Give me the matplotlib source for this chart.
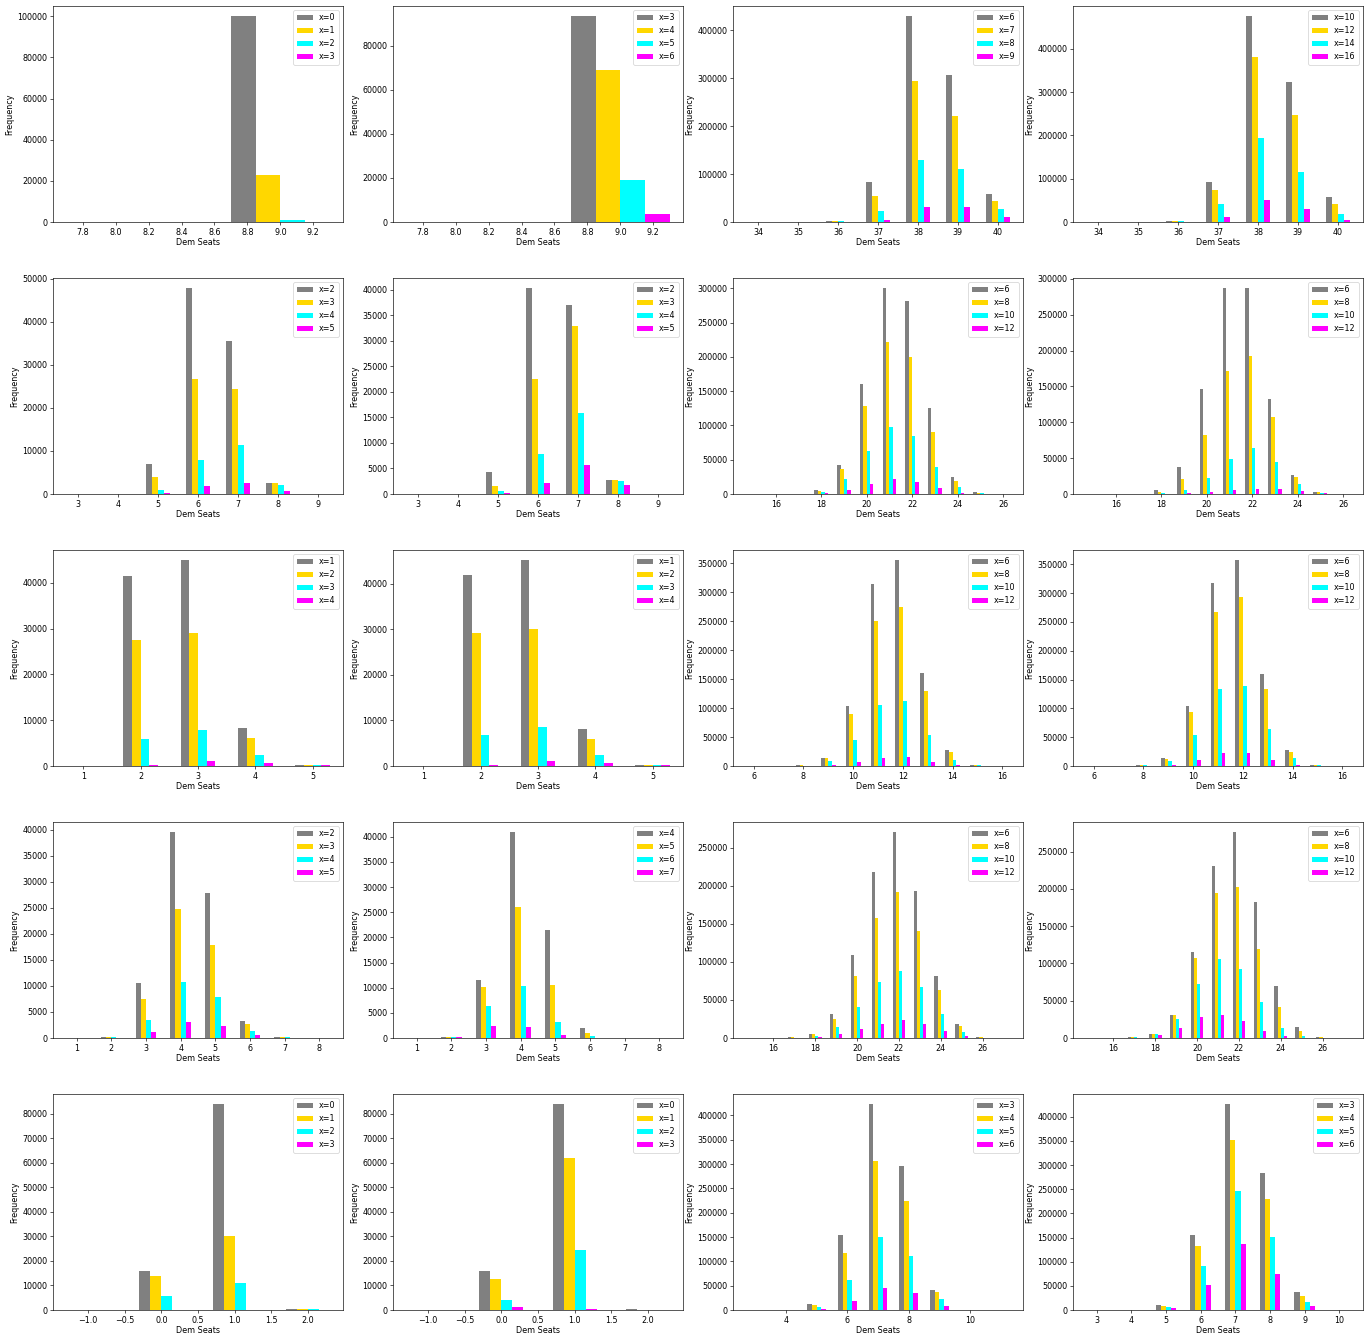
import matplotlib
matplotlib.use("Agg")
import matplotlib.pyplot as plt

# Simulated Dem seat distributions: one panel per state/chamber, four x settings each
panel_seats = [
    list(range(8, 10)), list(range(8, 10)), list(range(34, 41)), list(range(34, 41)),
    list(range(3, 10)), list(range(3, 10)), list(range(15, 27)), list(range(15, 27)),
    list(range(1, 6)), list(range(1, 6)), list(range(6, 17)), list(range(6, 17)),
    list(range(1, 9)), list(range(1, 9)), list(range(15, 28)), list(range(15, 28)),
    list(range(-1, 3)), list(range(-1, 3)), list(range(3, 12)), list(range(3, 11)),
]

panel_labels = [
    ["x=0", "x=1", "x=2", "x=3"], ["x=3", "x=4", "x=5", "x=6"],
    ["x=6", "x=7", "x=8", "x=9"], ["x=10", "x=12", "x=14", "x=16"],
    ["x=2", "x=3", "x=4", "x=5"], ["x=2", "x=3", "x=4", "x=5"],
    ["x=6", "x=8", "x=10", "x=12"], ["x=6", "x=8", "x=10", "x=12"],
    ["x=1", "x=2", "x=3", "x=4"], ["x=1", "x=2", "x=3", "x=4"],
    ["x=6", "x=8", "x=10", "x=12"], ["x=6", "x=8", "x=10", "x=12"],
    ["x=2", "x=3", "x=4", "x=5"], ["x=4", "x=5", "x=6", "x=7"],
    ["x=6", "x=8", "x=10", "x=12"], ["x=6", "x=8", "x=10", "x=12"],
    ["x=0", "x=1", "x=2", "x=3"], ["x=0", "x=1", "x=2", "x=3"],
    ["x=3", "x=4", "x=5", "x=6"], ["x=3", "x=4", "x=5", "x=6"],
]

counts_gray = [
    [0, 100000],
    [0, 93500],
    [0, 0, 2500, 84000, 429000, 307000, 58000],
    [0, 0, 3000, 93000, 475000, 324000, 57000],
    [0, 0, 6900, 47800, 35500, 2600, 0],
    [0, 0, 4300, 40300, 37100, 2700, 0],
    [0, 0, 300, 5500, 42000, 161000, 300000, 281000, 126000, 25000, 3000, 0],
    [0, 0, 300, 5000, 37000, 146000, 287000, 287000, 132000, 26000, 3000, 0],
    [0, 41400, 44900, 8300, 200],
    [0, 41900, 45200, 8200, 200],
    [0, 0, 1000, 14000, 104000, 314000, 355000, 160000, 28000, 2000, 0],
    [0, 0, 1000, 14000, 104000, 317000, 357000, 160000, 28000, 2000, 0],
    [0, 200, 10500, 39500, 27900, 3300, 200, 0],
    [0, 200, 11600, 40900, 21400, 2000, 0, 0],
    [0, 0, 1000, 5000, 31000, 109000, 218000, 270000, 193000, 81000, 19000, 1500, 0],
    [0, 0, 1000, 5000, 31000, 116000, 231000, 276000, 182000, 70000, 15000, 1500, 0],
    [0, 15800, 83900, 500],
    [0, 15800, 83900, 500],
    [0, 0, 12000, 154000, 423000, 296000, 41000, 0, 0],
    [0, 0, 11000, 155000, 426000, 283000, 37000, 0],
]

counts_gold = [
    [0, 23000],
    [0, 68900],
    [0, 0, 2000, 54000, 294000, 221000, 44000],
    [0, 0, 2500, 75000, 380000, 246000, 41000],
    [0, 0, 4000, 26800, 24500, 2600, 0],
    [0, 0, 1600, 22600, 33000, 2700, 0],
    [0, 0, 200, 5000, 37000, 129000, 222000, 200000, 91000, 19500, 1500, 0],
    [0, 0, 200, 3000, 21000, 82000, 171000, 193000, 107000, 24000, 3000, 0],
    [0, 27500, 29100, 6200, 200],
    [0, 29300, 30000, 6000, 200],
    [0, 0, 1000, 13000, 90000, 250000, 275000, 129000, 24000, 2000, 0],
    [0, 0, 1000, 13000, 94000, 267000, 294000, 134000, 25000, 2000, 0],
    [0, 200, 7400, 24700, 17800, 2600, 200, 0],
    [0, 200, 10200, 26000, 10500, 1000, 0, 0],
    [0, 0, 1000, 5000, 25000, 82000, 158000, 191000, 141000, 63000, 16000, 1500, 0],
    [0, 0, 1000, 5000, 31000, 107000, 194000, 202000, 120000, 42000, 9000, 1000, 0],
    [0, 14000, 30300, 400],
    [0, 12700, 62100, 100],
    [0, 0, 10000, 117000, 307000, 224000, 36000, 0, 0],
    [0, 0, 9000, 132000, 353000, 230000, 28000, 0],
]

counts_cyan = [
    [0, 1100],
    [0, 19200],
    [0, 0, 1500, 22000, 129000, 110000, 27000],
    [0, 0, 1500, 41000, 195000, 115000, 18000],
    [0, 0, 1000, 8000, 11400, 2200, 0],
    [0, 0, 600, 7800, 15900, 2600, 0],
    [0, 0, 100, 3000, 22000, 63000, 98000, 85000, 40000, 9500, 1000, 0],
    [0, 0, 100, 1500, 5000, 22000, 49000, 64000, 44000, 14000, 1500, 0],
    [0, 5900, 7800, 2300, 200],
    [0, 6800, 8500, 2500, 200],
    [0, 0, 300, 8000, 45000, 106000, 113000, 54000, 11000, 1500, 0],
    [0, 0, 1000, 9000, 54000, 133000, 138000, 65000, 13500, 1500, 0],
    [0, 200, 3500, 10800, 7800, 1400, 150, 0],
    [0, 200, 6400, 10300, 3100, 300, 0, 0],
    [0, 0, 300, 2500, 14000, 41000, 73000, 88000, 67000, 31000, 8000, 500, 0],
    [0, 0, 1000, 5000, 26000, 72000, 106000, 93000, 48000, 14000, 3000, 0, 0],
    [0, 5800, 11000, 400],
    [0, 4200, 24600, 0],
    [0, 0, 6000, 62000, 150000, 111000, 22000, 0, 0],
    [0, 0, 6000, 92000, 247000, 151000, 17000, 0],
]

counts_magenta = [
    [0, 0],
    [0, 3800],
    [0, 0, 200, 5000, 31000, 32000, 10000],
    [0, 0, 200, 12000, 50000, 29000, 5000],
    [0, 0, 300, 1900, 2600, 700, 0],
    [0, 0, 200, 2100, 5700, 1800, 0],
    [0, 0, 0, 1000, 6000, 15000, 22000, 17000, 9000, 1500, 200, 0],
    [0, 0, 0, 500, 1500, 3000, 6000, 7500, 7000, 3500, 1000, 0],
    [0, 300, 1000, 700, 200],
    [0, 300, 1100, 700, 200],
    [0, 0, 0, 2500, 7000, 14000, 15000, 7000, 1500, 200, 0],
    [0, 0, 100, 2500, 11000, 23000, 22000, 10000, 2000, 300, 0],
    [0, 50, 1200, 3100, 2300, 500, 50, 0],
    [0, 200, 2300, 2200, 500, 50, 0, 0],
    [0, 0, 0, 1000, 5000, 12000, 19000, 23000, 19000, 9000, 3000, 200, 0],
    [0, 0, 500, 4000, 13000, 28000, 31000, 23000, 10000, 3000, 500, 0, 0],
    [0, 0, 0, 0],
    [0, 1300, 300, 0],
    [0, 0, 2500, 19000, 45000, 34000, 8000, 0, 0],
    [0, 0, 4000, 52000, 137000, 74000, 8000, 0],
]

series_colors = ["gray", "gold", "cyan", "magenta"]
bar_width = 0.15

DPI = 58
fig, axes = plt.subplots(5, 4, figsize=(1371 / DPI, 1338 / DPI), dpi=DPI)
fig.subplots_adjust(left=53 / 1371, right=1363 / 1371,
                    top=1 - 6 / 1338, bottom=1 - 1310 / 1338,
                    wspace=50 / 290, hspace=56 / 216)

for idx, ax in enumerate(axes.flat):
    seats = panel_seats[idx]
    series = [counts_gray[idx], counts_gold[idx], counts_cyan[idx], counts_magenta[idx]]
    for k, (vals, color, label) in enumerate(zip(series, series_colors, panel_labels[idx])):
        xs = [s - 2 * bar_width + k * bar_width for s in seats]
        ax.bar(xs, vals, width=bar_width, align="edge", color=color, label=label)
    ax.set_xlabel("Dem Seats", labelpad=2)
    ax.set_ylabel("Frequency")
    ax.legend(loc="upper right")

fig.savefig("out.png", dpi=DPI)
